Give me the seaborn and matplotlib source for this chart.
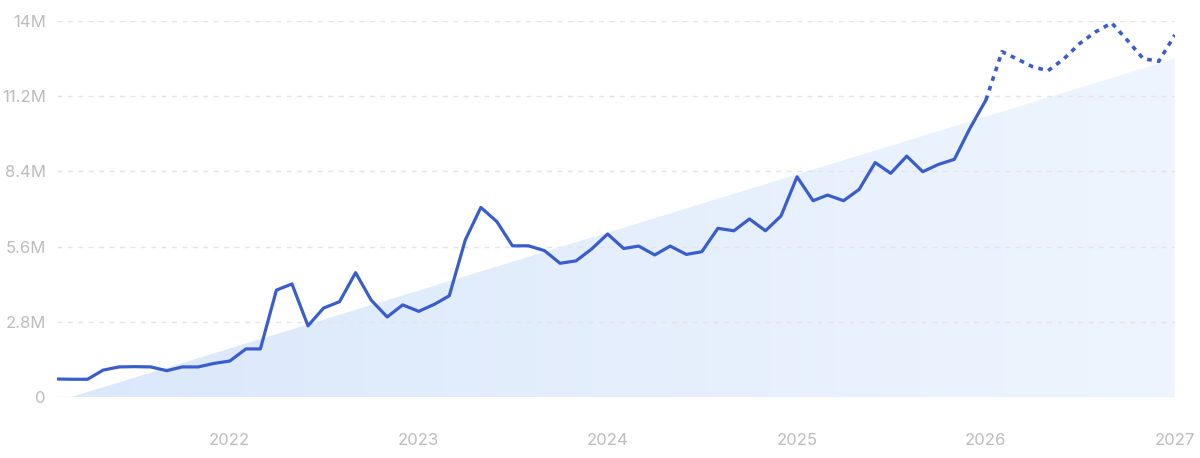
import numpy as np
import pandas as pd
import matplotlib
matplotlib.use('Agg')
import matplotlib.pyplot as plt
import matplotlib.dates as mdates
from matplotlib.colors import LinearSegmentedColormap
import seaborn as sb

# monthly values in millions, Feb 2021 .. Jan 2026 (observed)
observed = [0.67, 0.66, 0.66, 1.00, 1.12, 1.13, 1.12, 0.98, 1.12, 1.12, 1.25,
            1.34, 1.79, 1.79, 3.98, 4.21, 2.65, 3.31, 3.55, 4.63, 3.61, 2.98, 3.43,
            3.19, 3.46, 3.77, 5.85, 7.06, 6.53, 5.63, 5.63, 5.45, 4.98, 5.07, 5.51,
            6.07, 5.53, 5.62, 5.29, 5.62, 5.31, 5.41, 6.28, 6.19, 6.63, 6.19, 6.74,
            8.20, 7.31, 7.52, 7.31, 7.73, 8.73, 8.33, 8.97, 8.39, 8.66, 8.85, 10.0,
            11.06]
# forecast Jan 2026 .. Jan 2027
forecast = [11.06, 12.86, 12.60, 12.30, 12.15, 12.60, 13.16, 13.60, 13.93,
            13.29, 12.60, 12.50, 13.48]
# linear trend area, Mar 2021 -> Jan 2027
trend_dates = ['2021-03-01', '2027-01-01']
trend_values = [0.0, 12.6]
y_ticks = [0, 2.8, 5.6, 8.4, 11.2, 14]
y_labels = ['0', '2.8M', '5.6M', '8.4M', '11.2M', '14M']
x_years = [2022, 2023, 2024, 2025, 2026, 2027]

obs_dates = pd.date_range('2021-02-01', periods=len(observed), freq='MS')
fc_dates = pd.date_range('2026-01-01', periods=len(forecast), freq='MS')
df_obs = pd.DataFrame({'date': obs_dates, 'value': observed})
df_fc = pd.DataFrame({'date': fc_dates, 'value': forecast})

sb.set_style('white')
plt.rcParams['font.family'] = ['Inter', 'DejaVu Sans']

fig = plt.figure(figsize=(12, 4.58), dpi=100)
ax = fig.add_axes([0.0475, 0.1332, 0.9315, 0.8208])

line_color = '#3a5dcc'
grid_color = '#e2e4e9'
text_color = '#bcbcbc'

# trend area with a soft left-to-right gradient
td = pd.to_datetime(trend_dates)
poly = ax.fill_between(td, [0, 0], trend_values, color='none', lw=0)
x0, x1 = mdates.date2num(td[0]), mdates.date2num(td[1])
cmap = LinearSegmentedColormap.from_list('fade', ['#dbe8fb', '#eef5fe'])
grad = ax.imshow(np.linspace(0, 1, 256).reshape(1, -1), cmap=cmap, aspect='auto',
                 extent=[x0, x1, 0, max(trend_values)], zorder=1)
grad.set_clip_path(poly.get_paths()[0], transform=ax.transData)

# grid lines
for t in y_ticks[1:]:
    ax.axhline(t, color=grid_color, lw=1.0, ls=(0, (3.5, 4)), zorder=2)
ax.axhline(0, color='#e6e9ef', lw=1, zorder=2)

sb.lineplot(data=df_obs, x='date', y='value', ax=ax, color=line_color,
            lw=2.3, zorder=3)
sb.lineplot(data=df_fc, x='date', y='value', ax=ax, color=line_color,
            lw=2.6, ls=(0, (1.3, 1.5)), zorder=3)

ax.set_xlim(pd.Timestamp('2021-02-01'), pd.Timestamp('2027-01-01'))
ax.set_ylim(0, 14)
ax.set_yticks(y_ticks)
ax.set_yticklabels(y_labels)
ax.set_xticks([pd.Timestamp(f'{y}-01-01') for y in x_years])
ax.set_xticklabels([str(y) for y in x_years])
ax.tick_params(axis='both', length=0, labelcolor=text_color, labelsize=12)
ax.tick_params(axis='x', pad=26)
ax.tick_params(axis='y', pad=8)
ax.set_xlabel('')
ax.set_ylabel('')
for s in ax.spines.values():
    s.set_visible(False)

fig.savefig('out.png', dpi=100)
